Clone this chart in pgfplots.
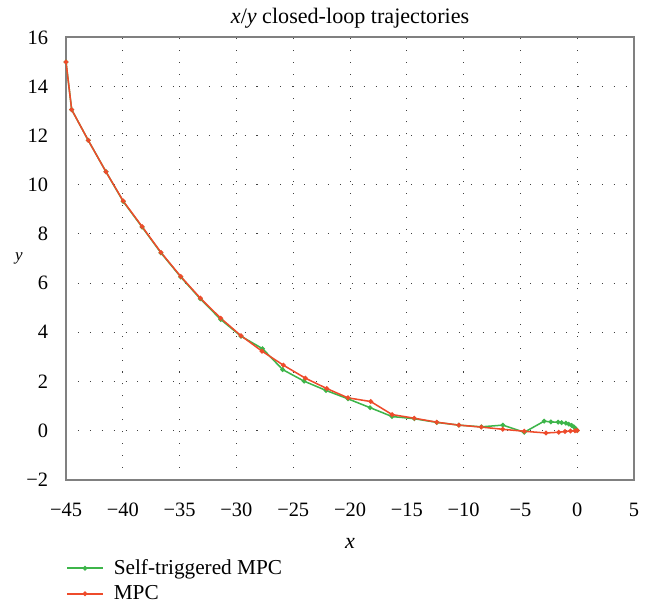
\documentclass[border=0pt]{standalone}
\usepackage{fontspec}
\setmainfont{Liberation Serif}
\usepackage{pgfplots}
\pgfplotsset{compat=1.18}
\definecolor{stgreen}{HTML}{3DB54A}
\definecolor{mpcred}{HTML}{EE4B2B}
\begin{document}
\begin{tikzpicture}
\begin{axis}[
    scale only axis,
    width=334pt, height=260pt,
    xmin=-45, xmax=5, ymin=-2, ymax=16,
    xtick={-45,-40,...,5},
    xticklabels={−45,−40,−35,−30,−25,−20,−15,−10,−5,0,5},
    ytick={-2,0,...,16},
    yticklabels={−2,0,2,4,6,8,10,12,14,16},
    major tick length=0pt,
    tick label style={font=\fontsize{12}{13}\selectfont},
    xticklabel style={yshift=-10pt},
    yticklabel style={xshift=-7pt},
    axis line style={draw=gray, line width=1.1pt},
    grid=major,
    grid style={black!75, line width=0.6pt, dash pattern=on 0.6pt off 6.4pt},
    title={\textit{x}/\textit{y} closed-loop trajectories},
    title style={font=\fontsize{13}{14}\selectfont, yshift=-4pt},
    xlabel={\textit{x}},
    ylabel={\textit{y}},
    label style={font=\fontsize{13}{14}\selectfont},
    xlabel style={yshift=-6pt},
    every axis y label/.style={at={(ticklabel* cs:0.5)}, anchor=east, xshift=-22pt},
    legend style={draw=none, fill=none, at={(0,-0.172)}, anchor=north west,
        font=\fontsize{12.5}{13}\selectfont, row sep=1pt, inner sep=0pt},
    legend cell align=left,
    legend image code/.code={\draw[mark repeat=2, mark phase=2, #1]
        plot coordinates {(0pt,0pt) (10.5pt,0pt) (21pt,0pt)};},
]
\addplot[stgreen, line width=0.9pt, mark=*, mark size=0.9pt] coordinates {
(-45,15.0) (-44.5,13.06) (-43.04,11.81) (-41.48,10.53) (-39.96,9.32)
(-38.3,8.28) (-36.64,7.23) (-34.9,6.25) (-33.18,5.36) (-31.38,4.52)
(-29.6,3.84) (-27.7,3.33) (-25.93,2.48) (-24.05,2.01) (-22.11,1.63)
(-20.18,1.29) (-18.24,0.93) (-16.3,0.57) (-14.34,0.48) (-12.37,0.33)
(-10.43,0.22) (-8.45,0.15) (-6.56,0.22) (-4.66,-0.07) (-2.92,0.38)
(-2.33,0.35) (-1.69,0.34) (-1.38,0.32) (-1.0,0.3) (-0.75,0.26)
(-0.5,0.21) (-0.3,0.15) (-0.15,0.08) (0,0)
};
\addlegendentry{\hspace{4pt}Self-triggered MPC}
\addplot[mpcred, line width=0.9pt, mark=*, mark size=0.9pt] coordinates {
(-45,15.0) (-44.5,13.06) (-43.04,11.81) (-41.48,10.53) (-39.96,9.34)
(-38.3,8.3) (-36.64,7.25) (-34.9,6.27) (-33.18,5.39) (-31.38,4.57)
(-29.6,3.86) (-27.75,3.23) (-25.87,2.66) (-23.93,2.13) (-22.05,1.71)
(-20.18,1.33) (-18.18,1.18) (-16.3,0.65) (-14.34,0.5) (-12.37,0.34)
(-10.43,0.22) (-8.45,0.14) (-6.56,0.05) (-4.66,-0.03) (-2.75,-0.1)
(-1.63,-0.07) (-1.08,-0.04) (-0.6,-0.02) (-0.2,-0.01) (0,0)
};
\addlegendentry{\hspace{4pt}MPC}
\end{axis}
\path (current axis.south west) ++(-38.8pt,-73pt) coordinate (bbA);
\path (current axis.north east) ++(7pt,22pt) coordinate (bbB);
\end{tikzpicture}
\end{document}
